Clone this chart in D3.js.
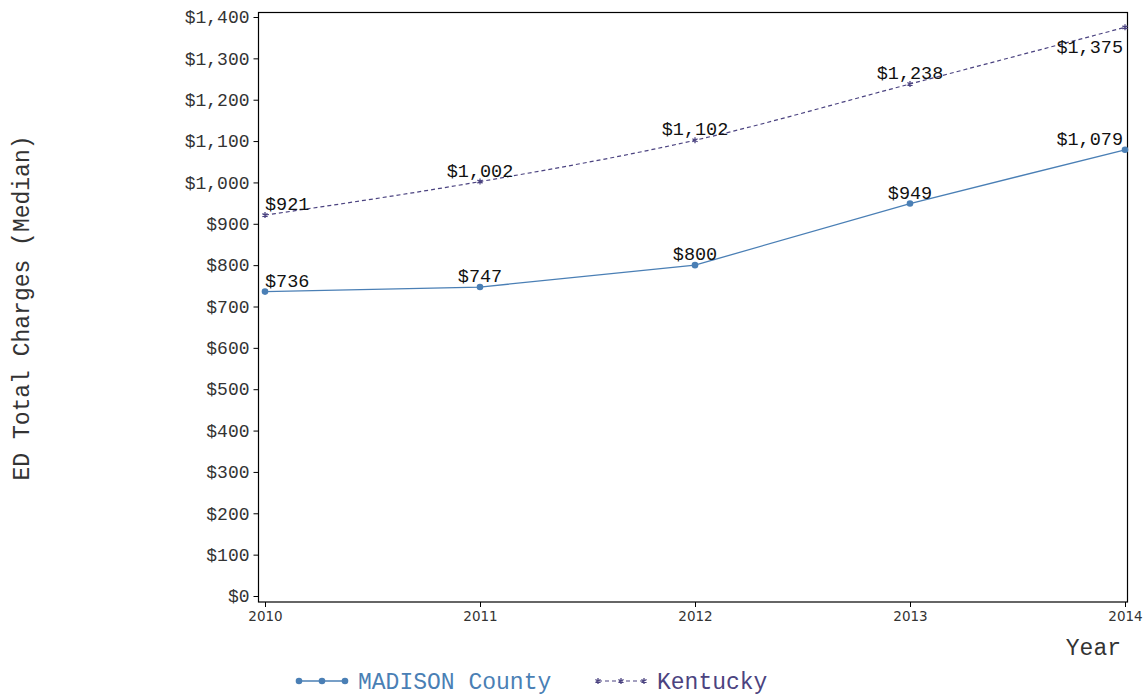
<!DOCTYPE html>
<html><head><meta charset="utf-8">
<script src="https://cdn.jsdelivr.net/npm/d3@7"></script>
<style>body{margin:0;background:#fff}svg{display:block}</style>
</head><body>
<svg id="c" width="1145" height="696"></svg>
<script>
const years = [2010, 2011, 2012, 2013, 2014];
const madison = [736, 747, 800, 949, 1079];
const kentucky = [921, 1002, 1102, 1238, 1375];
const yTicks = [0,100,200,300,400,500,600,700,800,900,1000,1100,1200,1300,1400];
const seriesNames = ["MADISON County", "Kentucky"];

const svg = d3.select("#c");
const mono = "'Liberation Mono', 'Courier New', monospace";
const cMad = "#4a7fb5", cKy = "#4b4380";
const x = d3.scaleLinear().domain([2010, 2014]).range([265, 1125]);
const y = d3.scaleLinear().domain([0, 1400]).range([596, 17]);
const fmt = v => "$" + d3.format(",")(v);

// frame
svg.append("rect").attr("x",258.5).attr("y",12.5).attr("width",869).attr("height",589.5)
  .attr("fill","none").attr("stroke","#000").attr("stroke-width",1.2);

// y axis
const ya = svg.append("g").attr("transform","translate(258.5,0)")
  .call(d3.axisLeft(y).tickValues(yTicks).tickFormat(fmt).tickSize(5).tickPadding(4));
ya.select(".domain").remove();
ya.selectAll("text").attr("font-family",mono).attr("font-size",18).attr("fill","#333");
ya.selectAll("line").attr("stroke","#000");

// x axis
const xa = svg.append("g").attr("transform","translate(0,602)")
  .call(d3.axisBottom(x).tickValues(years).tickFormat(d3.format("d")).tickSize(5).tickPadding(4));
xa.select(".domain").remove();
xa.selectAll("text").attr("font-family","'DejaVu Sans', sans-serif").attr("font-size",13.5).attr("fill","#333");
xa.selectAll("line").attr("stroke","#000");

// titles
svg.append("text").attr("transform","translate(29,308) rotate(-90)").attr("text-anchor","middle")
  .attr("font-family",mono).attr("font-size",23).attr("fill","#333").text("ED Total Charges (Median)");
svg.append("text").attr("x",1121).attr("y",655).attr("text-anchor","end")
  .attr("font-family",mono).attr("font-size",23).attr("fill","#333").text("Year");

// lines
const mData = years.map((yr,i)=>({yr, v:madison[i]}));
const kData = years.map((yr,i)=>({yr, v:kentucky[i]}));
svg.append("path").datum(kData).attr("fill","none").attr("stroke",cKy).attr("stroke-width",1.2)
  .attr("stroke-dasharray","4,3")
  .attr("d", d3.line().x(d=>x(d.yr)).y(d=>y(d.v)).curve(d3.curveMonotoneX));
svg.append("path").datum(mData).attr("fill","none").attr("stroke",cMad).attr("stroke-width",1.3)
  .attr("d", d3.line().x(d=>x(d.yr)).y(d=>y(d.v)));

function starPath(cx, cy, r){
  let p = "";
  for (let k=0;k<3;k++){ const a = Math.PI/2 + k*Math.PI/3;
    p += `M${cx+r*Math.cos(a)},${cy+r*Math.sin(a)}L${cx-r*Math.cos(a)},${cy-r*Math.sin(a)}`; }
  return p;
}
svg.selectAll(".kstar").data(kData).enter().append("path")
  .attr("d", d=>starPath(x(d.yr), y(d.v), 3)).attr("stroke",cKy).attr("stroke-width",1.3).attr("fill","none");
svg.selectAll(".mdot").data(mData).enter().append("circle")
  .attr("cx",d=>x(d.yr)).attr("cy",d=>y(d.v)).attr("r",3.3).attr("fill",cMad);

// labels
function labelPos(d, i, n){
  let anchor = "middle", lx = x(d.yr);
  if (i===0){ anchor="start"; lx = x(d.yr); }
  if (i===n-1){ anchor="end"; lx = x(d.yr)-2; }
  return {anchor, lx};
}
const lblSize = 18.5;
mData.forEach((d,i)=>{
  const p = labelPos(d,i,mData.length);
  svg.append("text").attr("x",p.lx).attr("y",y(d.v)-5).attr("text-anchor",p.anchor)
    .attr("font-family",mono).attr("font-size",lblSize).attr("fill","#111").text(fmt(d.v));
});
kData.forEach((d,i)=>{
  const p = labelPos(d,i,kData.length);
  const ly = i===kData.length-1 ? y(d.v)+26 : y(d.v)-5;
  svg.append("text").attr("x",p.lx).attr("y",ly).attr("text-anchor",p.anchor)
    .attr("font-family",mono).attr("font-size",lblSize).attr("fill","#111").text(fmt(d.v));
});

// legend
const lg = svg.append("g");
const ly0 = 681;
lg.append("line").attr("x1",299).attr("x2",345).attr("y1",ly0).attr("y2",ly0).attr("stroke",cMad).attr("stroke-width",1.5);
[299,322,345].forEach(cx=>lg.append("circle").attr("cx",cx).attr("cy",ly0).attr("r",3.3).attr("fill",cMad));
lg.append("text").attr("x",358).attr("y",ly0+8).attr("font-family",mono).attr("font-size",23).attr("fill",cMad).text(seriesNames[0]);
lg.append("line").attr("x1",598).attr("x2",644).attr("y1",ly0).attr("y2",ly0).attr("stroke",cKy).attr("stroke-width",1.2).attr("stroke-dasharray","4,3");
[598,621,644].forEach(cx=>lg.append("path").attr("d",starPath(cx,ly0,3)).attr("stroke",cKy).attr("stroke-width",1.3));
lg.append("text").attr("x",657).attr("y",ly0+8).attr("font-family",mono).attr("font-size",23).attr("fill",cKy).text(seriesNames[1]);
</script>
</body></html>
